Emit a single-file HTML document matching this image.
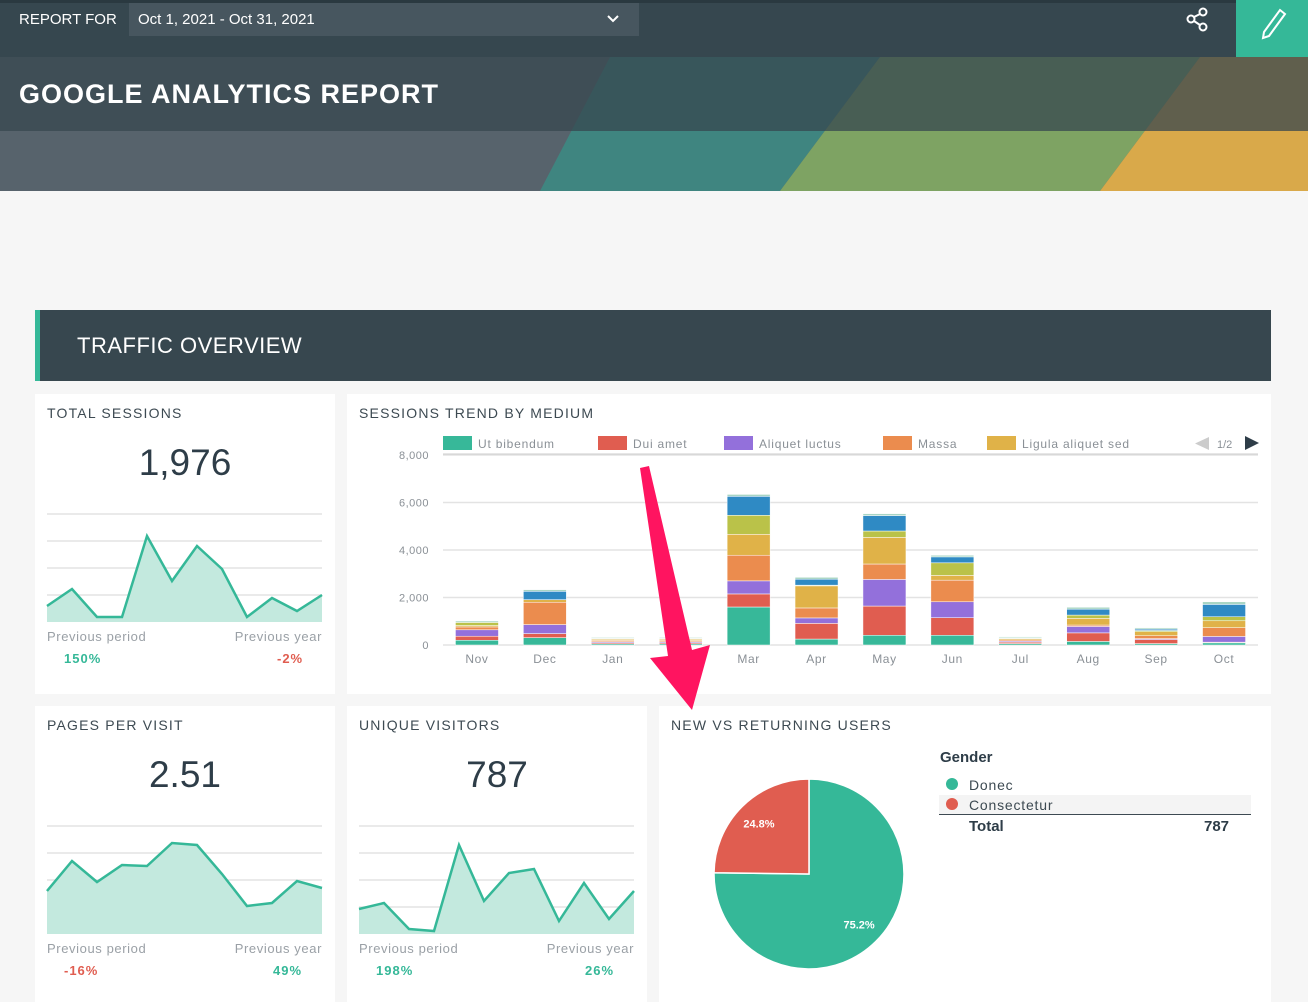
<!DOCTYPE html>
<html><head><meta charset="utf-8">
<style>
*{margin:0;padding:0;box-sizing:border-box}
body{width:1308px;height:1002px;background:#f6f6f6;font-family:"Liberation Sans",sans-serif;position:relative;overflow:hidden}
.abs{position:absolute}
.card{position:absolute;background:#fff}
.ct{position:absolute;left:12px;top:11px;font-size:14px;letter-spacing:1.2px;color:#3d4a52}
.big{position:absolute;width:100%;text-align:center;font-size:37px;color:#2e3d48;top:48px}
.lbl{position:absolute;font-size:13px;color:#9aa0a6;letter-spacing:.6px}
.pct{position:absolute;font-size:13px;font-weight:bold;letter-spacing:1px}
</style></head><body>
<svg class="abs" style="left:0;top:0" width="1308" height="191">
<rect width="1308" height="191" fill="#57636c"/>
<polygon points="610,57 880,57 780,191 540,191" fill="#3f8580"/>
<polygon points="880,57 1200,57 1100,191 780,191" fill="#7ea363"/>
<polygon points="1200,57 1308,57 1308,191 1100,191" fill="#d9a94a"/>
<rect width="1308" height="131" fill="#37474f" opacity="0.75"/>
<rect width="1308" height="57" fill="#36474f"/>
<rect width="1308" height="3" fill="#2a3940"/>
</svg>
<div class="abs" style="left:19px;top:11px;font-size:15px;color:#fff">REPORT FOR</div>
<div class="abs" style="left:129px;top:3px;width:510px;height:33px;background:#47565f;color:#fff;font-size:15px;padding:8px 9px">Oct 1, 2021 - Oct 31, 2021<svg style="position:absolute;right:20px;top:12px" width="12" height="8"><polyline points="1,1 6,6 11,1" fill="none" stroke="#fff" stroke-width="2"/></svg></div>
<svg class="abs" style="left:1185px;top:7px" width="26" height="26"><circle cx="18" cy="5" r="3.5" fill="none" stroke="#fff" stroke-width="2"/><circle cx="6" cy="12" r="3.5" fill="none" stroke="#fff" stroke-width="2"/><circle cx="18" cy="20" r="3.5" fill="none" stroke="#fff" stroke-width="2"/><line x1="9" y1="10" x2="15" y2="7" stroke="#fff" stroke-width="2"/><line x1="9" y1="14" x2="15" y2="18" stroke="#fff" stroke-width="2"/></svg>
<div class="abs" style="left:1236px;top:0;width:72px;height:57px;background:#35b898"><svg width="72" height="57"><path d="M28 32 L44 10 L49 14 L33 36 L27 38 Z" fill="none" stroke="#fff" stroke-width="2"/></svg></div>
<div class="abs" style="left:19px;top:79px;font-size:27px;font-weight:bold;color:#fff;letter-spacing:1px">GOOGLE ANALYTICS REPORT</div>

<div class="abs" style="left:35px;top:310px;width:1236px;height:71px;background:#37474f;border-left:5px solid #35b898"><span style="position:absolute;left:37px;top:23px;font-size:22px;color:#fff;letter-spacing:.5px">TRAFFIC OVERVIEW</span></div>

<div class="card" style="left:35px;top:394px;width:300px;height:300px">
<div class="ct">TOTAL SESSIONS</div><div class="big">1,976</div>
<svg class="abs" style="left:0;top:0" width="300" height="300" id="sp1"></svg>
<div class="lbl" style="left:12px;top:235px">Previous period</div><div class="lbl" style="right:13px;top:235px">Previous year</div>
<div class="pct" style="left:29px;top:257px;color:#35b898">150%</div><div class="pct" style="left:242px;top:257px;color:#e05d50">-2%</div>
</div>

<div class="card" style="left:347px;top:394px;width:924px;height:300px">
<div class="ct">SESSIONS TREND BY MEDIUM</div>
<svg class="abs" style="left:0;top:0" width="924" height="300" id="bars"></svg>
</div>

<div class="card" style="left:35px;top:706px;width:300px;height:296px">
<div class="ct">PAGES PER VISIT</div><div class="big">2.51</div>
<svg class="abs" style="left:0;top:0" width="300" height="296" id="sp2"></svg>
<div class="lbl" style="left:12px;top:235px">Previous period</div><div class="lbl" style="right:13px;top:235px">Previous year</div>
<div class="pct" style="left:29px;top:257px;color:#e05d50">-16%</div><div class="pct" style="left:238px;top:257px;color:#35b898">49%</div>
</div>

<div class="card" style="left:347px;top:706px;width:300px;height:296px">
<div class="ct">UNIQUE VISITORS</div><div class="big">787</div>
<svg class="abs" style="left:0;top:0" width="300" height="296" id="sp3"></svg>
<div class="lbl" style="left:12px;top:235px">Previous period</div><div class="lbl" style="right:13px;top:235px">Previous year</div>
<div class="pct" style="left:29px;top:257px;color:#35b898">198%</div><div class="pct" style="left:238px;top:257px;color:#35b898">26%</div>
</div>

<div class="card" style="left:659px;top:706px;width:612px;height:296px">
<div class="ct">NEW VS RETURNING USERS</div>
<svg class="abs" style="left:0;top:0" width="612" height="296" id="pie"></svg>
<div class="abs" style="left:281px;top:43px;font-size:15px;font-weight:bold;color:#2e3d48">Gender</div>
<div class="abs" style="left:287px;top:71px;font-size:14px;color:#3d4a52;letter-spacing:.8px"><span style="display:inline-block;width:12px;height:12px;border-radius:50%;background:#35b898;margin-right:11px"></span>Donec</div>
<div class="abs" style="left:280px;top:89px;width:312px;height:20px;background:#f4f4f4;border-bottom:1px solid #3d4a52"></div>
<div class="abs" style="left:287px;top:91px;font-size:14px;color:#3d4a52;letter-spacing:.8px"><span style="display:inline-block;width:12px;height:12px;border-radius:50%;background:#e05d50;margin-right:11px"></span>Consectetur</div>
<div class="abs" style="left:310px;top:112px;font-size:15px;font-weight:bold;color:#2e3d48">Total</div>
<div class="abs" style="left:545px;top:112px;font-size:15px;font-weight:bold;color:#2e3d48">787</div>
</div>

<svg class="abs" style="left:630px;top:460px" width="100" height="260"><polygon points="10,8 19,6 62,190 80,185 62,250 20,198 38,196" fill="#ff1460"/></svg>

<script>
const NS="http://www.w3.org/2000/svg";
function mk(p,t,a){const e=document.createElementNS(NS,t);for(const k in a)e.setAttribute(k,a[k]);p.appendChild(e);return e;}
// sparkline data
const sessionsSpark=[16,33,5,5,86,41,76,53,5,24,11,27];
const pagesSpark=[43,73,52,69,68,91,89,60,28,31,53,46];
const visitorsSpark=[25,31,5,3,89,33,61,65,13,51,15,43];
function spark(id,vals,top){
  const svg=document.getElementById(id);const x0=12,x1=287,base=top+108;
  for(let i=0;i<4;i++)mk(svg,'line',{x1:x0,x2:x1,y1:top+i*27,y2:top+i*27,stroke:'#e3e3e3','stroke-width':1.5});
  const pts=vals.map((v,i)=>[x0+i*(x1-x0)/(vals.length-1),base-v]);
  const area=mk(svg,'polygon',{points:`${x0},${base} `+pts.map(p=>p.join(',')).join(' ')+` ${x1},${base}`,fill:'#c3e9de'});
  
  
  const ln=mk(svg,'polyline',{points:pts.map(p=>p.join(',')).join(' '),fill:'none',stroke:'#35b898','stroke-width':2.5});
  
  
}
spark('sp1',sessionsSpark,120);spark('sp2',pagesSpark,120);spark('sp3',visitorsSpark,120);

// stacked bar data
const months=['Nov','Dec','Jan','Feb','Mar','Apr','May','Jun','Jul','Aug','Sep','Oct'];
const utBibendum=[200,310,50,50,1600,250,410,410,60,150,60,90];
const duiAmet=[170,170,50,50,550,660,1230,740,60,360,170,30];
const aliquetLuctus=[270,380,40,40,550,230,1120,670,40,270,40,240];
const massa=[120,940,50,50,1080,420,650,910,50,60,120,370];
const ligula=[60,110,50,50,880,930,1120,200,50,280,170,290];
const olive=[130,0,30,30,800,30,270,530,30,140,50,170];
const blue=[0,350,20,20,800,250,650,250,20,250,60,520];
const other=[60,70,30,30,80,80,80,70,40,80,50,110];
const yTicks=[0,2000,4000,6000,8000];
const seriesColors=['#37b899','#e05d50','#9370db','#eb8c4e','#e0b248','#bac249','#2f8ac4','#a8d5c4'];
const legendNames=['Ut bibendum','Dui amet','Aliquet luctus','Massa','Ligula aliquet sed'];
(function(){
  const svg=document.getElementById('bars');
  const px0=96,px1=911,base=251,top=61;
  const y=v=>base-v/8000*(base-top);
  const step=(px1-px0)/months.length;
  const x=i=>px0+step*(i+0.5);
  yTicks.forEach(t=>{
    mk(svg,'line',{x1:px0,x2:px1,y1:y(t),y2:y(t),stroke:'#e3e3e3','stroke-width':1.5});
    const tx=mk(svg,'text',{x:82,y:y(t)+4,'text-anchor':'end','font-size':11,fill:'#8a9096','letter-spacing':'0.5'});tx.textContent=t.toLocaleString('en-US');
  });
  const series=[utBibendum,duiAmet,aliquetLuctus,massa,ligula,olive,blue,other];
  months.forEach((m,i)=>{
    let acc=0;
    series.forEach((s,k)=>{
      const v=s[i];if(!v)return;
      const r=mk(svg,'rect',{x:x(i)-21.5,y:y(acc+v),width:43,height:y(acc)-y(acc+v),fill:seriesColors[k],stroke:'#fff','stroke-width':0.5});
      
      
      acc+=v;
    });
    const t=mk(svg,'text',{x:x(i),y:269,'text-anchor':'middle','font-size':12,fill:'#8a9096','letter-spacing':'0.6'});t.textContent=m;
  });
  // legend
  const lx=[96,251,377,536,640];
  legendNames.forEach((n,k)=>{
    const r=mk(svg,'rect',{x:lx[k],y:42,width:29,height:14,fill:seriesColors[k]});
    
    
    const t=mk(svg,'text',{x:lx[k]+35,y:54,'font-size':12,fill:'#8a9096','letter-spacing':'0.8'});t.textContent=n;
  });
  mk(svg,'line',{x1:96,x2:911,y1:60,y2:60,stroke:'#ccc'});
  mk(svg,'polygon',{points:'862,43 862,56 848,49.5',fill:'#ccc'});
  const pg=mk(svg,'text',{x:870,y:54,'font-size':11,fill:'#8a9096'});pg.textContent='1/2';
  const nx=mk(svg,'polygon',{points:'898,42 898,56 912,49',fill:'#2e3d48'});
  
  
})();

// pie data
const pieLabels=['Donec','Consectetur'];
const pieValues=[75.2,24.8];
const pieColors=['#35b898','#e05d50'];
(function(){
  const svg=document.getElementById('pie');const cx=150,cy=168,r=95;
  const tot=pieValues.reduce((a,b)=>a+b,0);let a0=0;
  pieValues.forEach((v,i)=>{
    const a1=a0+v/tot*2*Math.PI;
    const p=(a)=>[cx+r*Math.sin(a),cy-r*Math.cos(a)];
    const [x0,y0]=p(a0),[x1,y1]=p(a1);
    const s=mk(svg,'path',{d:`M${cx},${cy} L${x0},${y0} A${r},${r} 0 ${a1-a0>Math.PI?1:0} 1 ${x1},${y1} Z`,fill:pieColors[i],stroke:'#fff','stroke-width':1.5});
    
    
    const am=(a0+a1)/2;
    const t=mk(svg,'text',{x:cx+r*0.75*Math.sin(am),y:cy-r*0.75*Math.cos(am)+4,'text-anchor':'middle','font-size':11,'font-weight':'bold',fill:'#fff'});t.textContent=v+'%';
    a0=a1;
  });
})();
</script>
</body></html>
